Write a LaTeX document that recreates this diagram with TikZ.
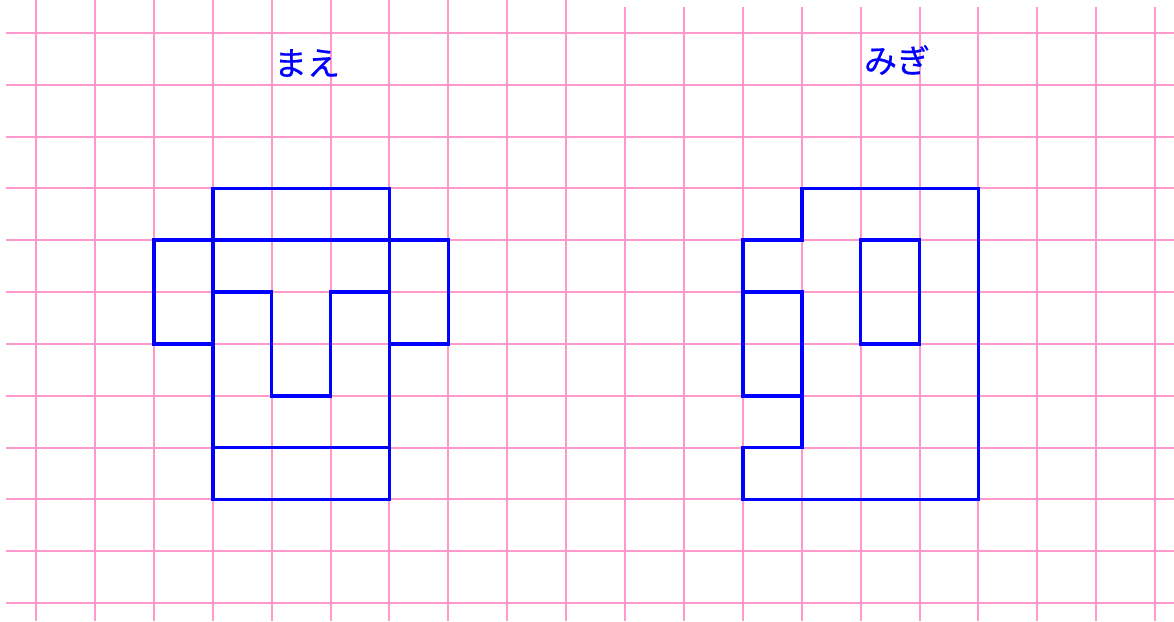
\documentclass[tikz,border=0pt]{standalone}
\usepackage{fontspec}
\newfontfamily\jpfont[FakeBold=0.6]{Noto Sans CJK JP}
\definecolor{gridpink}{RGB}{255,153,204}
\definecolor{shapeblue}{RGB}{0,0,255}
\begin{document}
\begin{tikzpicture}[x=1pt,y=-1pt,
  gridline/.style={draw=gridpink,line width=2pt},
  outline/.style={draw=shapeblue,line width=3.6pt,line join=miter,line cap=rect},
  title/.style={text=shapeblue,font=\jpfont\fontsize{33}{33}\selectfont,inner sep=0pt}]
\useasboundingbox (0,0) rectangle (1174,621);
% horizontal grid lines
\foreach \j in {0,...,11}{
  \draw[gridline] (6,{33+51.82*\j}) -- (1174,{33+51.82*\j});
}
% vertical grid lines (left sheet)
\foreach \i in {0,...,9}{
  \draw[gridline] ({36+58.9*\i},0) -- ({36+58.9*\i},621);
}
% vertical grid lines (right sheet)
\foreach \i in {10,...,19}{
  \draw[gridline] ({36+58.9*\i},7) -- ({36+58.9*\i},621);
}
\begin{scope}[x=58.9pt,y=-51.82pt,shift={(36pt,-33pt)}]
% left figure
\draw[outline] (3,3) rectangle (6,9);
\draw[outline] (3,4) -- (6,4);
\draw[outline] (3,8) -- (6,8);
\draw[outline] (3,4) -- (2,4) -- (2,6) -- (3,6);
\draw[outline] (6,4) -- (7,4) -- (7,6) -- (6,6);
\draw[outline] (3,5) -- (4,5) -- (4,7) -- (5,7) -- (5,5) -- (6,5);
% right figure
\draw[outline] (13,3) -- (16,3) -- (16,9) -- (12,9) -- (12,8) -- (13,8) -- (13,5) -- (12,5);
\draw[outline] (13,3) -- (13,4) -- (12,4) -- (12,7) -- (13,7);
\draw[outline] (14,4) rectangle (15,6);
\end{scope}
\node[title] (front) at (307,63) {まえ};
\node[title] (right) at (897,60) {みぎ};
\end{tikzpicture}
\end{document}
